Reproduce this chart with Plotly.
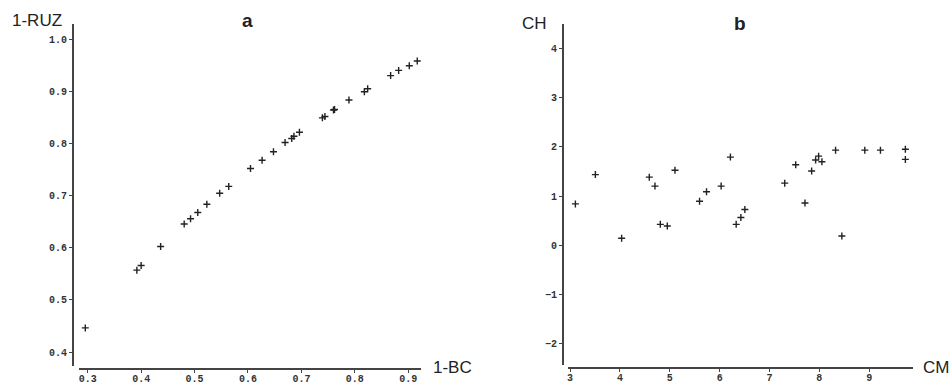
import plotly.graph_objects as go

W, H = 951, 385

# Panel a data
a_x = [0.2955, 0.392, 0.400, 0.4365, 0.4806, 0.4925, 0.506, 0.523, 0.547, 0.564,
       0.6047, 0.6264, 0.6477, 0.6694, 0.6819, 0.686, 0.6963, 0.7393, 0.744, 0.760,
       0.762, 0.789, 0.8178, 0.824, 0.867, 0.882, 0.9019, 0.9168]
a_y = [0.4463, 0.557, 0.566, 0.6025, 0.6455, 0.6556, 0.6676, 0.6835, 0.7044, 0.7176,
       0.7518, 0.7676, 0.784, 0.8017, 0.8093, 0.8137, 0.8213, 0.849, 0.8516, 0.8640,
       0.8650, 0.8833, 0.899, 0.9047, 0.930, 0.940, 0.949, 0.9579]

# Panel b data
b_x = [3.106, 3.507, 4.034, 4.589, 4.703, 4.81, 4.95, 5.104, 5.597, 5.737, 6.03,
       6.216, 6.332, 6.426, 6.506, 7.306, 7.526, 7.712, 7.846, 7.926, 7.986, 8.052,
       8.326, 8.452, 8.912, 9.226, 9.726, 9.726]
b_y = [0.843, 1.438, 0.147, 1.386, 1.205, 0.428, 0.394, 1.526, 0.896, 1.09, 1.205,
       1.793, 0.428, 0.568, 0.729, 1.265, 1.639, 0.863, 1.512, 1.733, 1.813, 1.699,
       1.934, 0.193, 1.934, 1.934, 1.954, 1.747]

a_xticks = [0.3, 0.4, 0.5, 0.6, 0.7, 0.8, 0.9]
a_yticks = [0.4, 0.5, 0.6, 0.7, 0.8, 0.9, 1.0]
b_xticks = [3, 4, 5, 6, 7, 8, 9]
b_yticks = [-2, -1, 0, 1, 2, 3, 4]

def px(v):
    return v / W

def py(v):
    return 1 - v / H

marker = dict(symbol="cross-thin", size=5, line=dict(width=1.4, color="#222"), color="#222")

fig = go.Figure()
fig.add_trace(go.Scatter(x=a_x, y=a_y, mode="markers", marker=marker, xaxis="x", yaxis="y",
                         showlegend=False, cliponaxis=False))
fig.add_trace(go.Scatter(x=b_x, y=b_y, mode="markers", marker=marker, xaxis="x2", yaxis="y2",
                         showlegend=False, cliponaxis=False))

tickfont = dict(family="Liberation Mono", size=10, color="#333", weight="bold")
axcommon = dict(showgrid=False, zeroline=False, showline=True, linecolor="#444", linewidth=2,
                ticks="outside", ticklen=3, tickcolor="#444", tickwidth=1, tickfont=tickfont)

fig.update_layout(
    width=W, height=H, margin=dict(l=0, r=0, t=0, b=0),
    paper_bgcolor="white", plot_bgcolor="white",
    xaxis=dict(domain=[px(77.7), px(420)], range=[0.283, 0.923], anchor="free", position=py(372.7),
               tickvals=a_xticks, tickformat=".1f", ticklabelstandoff=-3, **axcommon),
    yaxis=dict(domain=[py(370), py(24)], range=[0.373, 1.0294], anchor="free", position=px(72),
               tickvals=a_yticks, tickformat=".1f", **axcommon),
    xaxis2=dict(domain=[px(568), px(913.3)], range=[2.966, 9.886], anchor="free", position=py(371.7),
                tickvals=b_xticks, ticklabelstandoff=-3, **axcommon),
    yaxis2=dict(domain=[py(369), py(24)], range=[-2.43, 4.50], anchor="free", position=px(562.7),
                tickvals=b_yticks, **axcommon),
)

lab = dict(family="Liberation Sans", size=17, color="#222")
annots = [
    dict(text="1-RUZ", x=px(36.5), y=py(21), font=lab),
    dict(text="1-BC", x=px(452), y=py(371.7), font=lab),
    dict(text="<b>a</b>", x=px(247), y=py(21), font=dict(family="Liberation Sans", size=19, color="#222")),
    dict(text="CH", x=px(534), y=py(24), font=lab),
    dict(text="CM", x=px(936), y=py(371), font=lab),
    dict(text="<b>b</b>", x=px(739.5), y=py(24), font=dict(family="Liberation Sans", size=19, color="#222")),
]
for a in annots:
    fig.add_annotation(xref="paper", yref="paper", showarrow=False, xanchor="center", yanchor="middle", **a)

fig.write_html("out.html")
